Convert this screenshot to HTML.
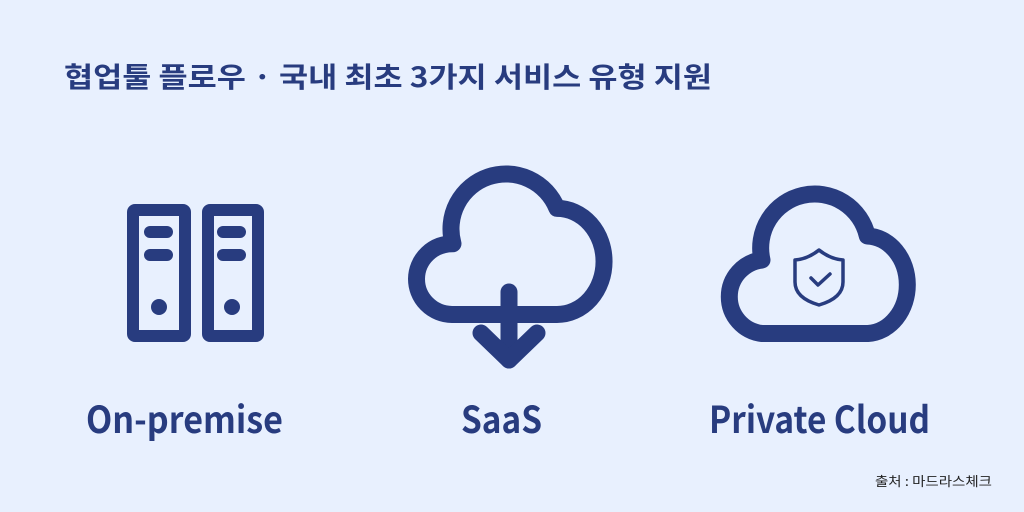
<!DOCTYPE html>
<html><head><meta charset="utf-8"><style>
html,body{margin:0;padding:0;background:#e8f0fe;}
svg{display:block}
text{font-family:"Noto Sans CJK KR","Liberation Sans",sans-serif;font-weight:bold;fill:#283c7f}
</style></head><body>
<svg width="1024" height="512" viewBox="0 0 1024 512" xmlns="http://www.w3.org/2000/svg">
<rect width="1024" height="512" fill="#e8f0fe"/>
<text x="64" y="87" font-size="28" textLength="648" lengthAdjust="spacingAndGlyphs">협업툴 플로우 · 국내 최초 3가지 서비스 유형 지원</text>
<g fill="none" stroke="#283c7f" stroke-width="12" stroke-linecap="round" stroke-linejoin="round">
<rect x="133" y="210" width="52" height="126" rx="2"/>
<rect x="208" y="210" width="50" height="126" rx="2"/>
<line x1="150" y1="232" x2="167" y2="232"/><line x1="150" y1="255" x2="167" y2="255"/>
<line x1="223" y1="232" x2="240" y2="232"/><line x1="223" y1="255" x2="240" y2="255"/>
</g>
<circle cx="159" cy="307" r="8" fill="#283c7f"/><circle cx="232" cy="307" r="8" fill="#283c7f"/>
<g fill="none" stroke="#283c7f" stroke-width="17" stroke-linecap="round" stroke-linejoin="round">
<path d="M452,314.5 A36,35.4 0 0 1 453,243.7 A55,55 0 0 1 557,208.4 A47,53 0 0 1 557,314.5 Z"/>
<path d="M762,333.5 A37,37 0 0 1 762,260 A54,54 0 0 1 867.3,236 A41.5,48.8 0 0 1 868,333.5 Z"/>
<line x1="509" y1="292" x2="509" y2="360"/>
<polyline points="481,333 509,360 537,333"/>
</g>
<g fill="none" stroke="#283c7f" stroke-width="3.5" stroke-linejoin="round" stroke-linecap="round">
<path d="M819,250 Q830,259 843,260 L843,282 Q843,298 819,305 Q795,298 795,282 L795,260 Q808,259 819,250 Z"/>
<polyline points="811,278 818,285 830,274"/>
</g>
<text x="86" y="433" font-size="37" textLength="197" lengthAdjust="spacingAndGlyphs">On-premise</text>
<text x="461" y="433" font-size="37" textLength="81" lengthAdjust="spacingAndGlyphs">SaaS</text>
<text x="709" y="433" font-size="37" textLength="221" lengthAdjust="spacingAndGlyphs">Private Cloud</text>
<text x="875" y="486" font-size="13" textLength="117" lengthAdjust="spacingAndGlyphs" style="font-weight:normal;fill:#222">출처 : 마드라스체크</text>
</svg>
</body></html>
